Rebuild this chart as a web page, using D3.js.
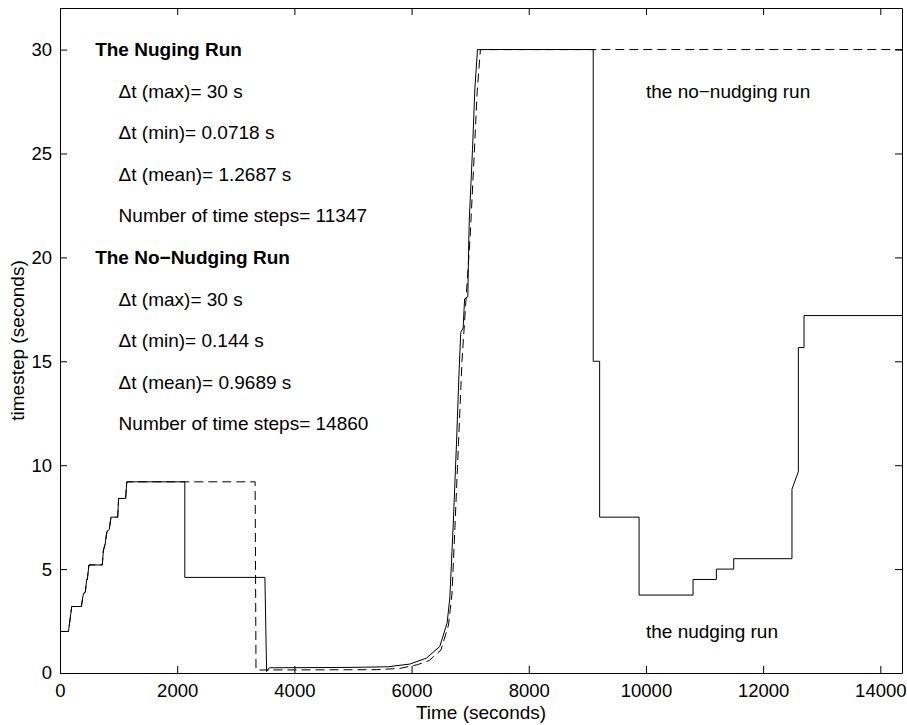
<!DOCTYPE html>
<html>
<head>
<meta charset="utf-8">
<script src="https://cdn.jsdelivr.net/npm/d3@7"></script>
<style>
    body { margin: 0; background: #fff; }
    svg { font-family: "Liberation Sans", Arial, Helvetica, sans-serif; }
</style>
</head>
<body>
<div id="chart"></div>
<script>
// time (s), timestep (s)
const nudgingRun = [
    [0, 2.0], [145, 2.0], [200, 3.2], [365, 3.2], [398, 3.8], [432, 3.9], [455, 4.5], [466, 4.5],
    [494, 5.2], [722, 5.2], [740, 5.9], [770, 6.2], [800, 6.8], [840, 6.9], [870, 7.5], [985, 7.5],
    [1000, 8.4], [1120, 8.4], [1140, 9.2], [2130, 9.2], [2130, 4.6], [3497, 4.6], [3526, 0.07],
    [3571, 0.25], [5000, 0.27], [5600, 0.3], [5971, 0.43], [6255, 0.72], [6482, 1.28], [6607, 2.41],
    [6653, 3.61], [6710, 7.06], [6767, 11.07], [6812, 14.6], [6840, 16.4], [6880, 16.6], [6905, 18.0],
    [6960, 18.1], [6975, 20.6], [6985, 21.8], [7040, 25.2], [7080, 28.1], [7125, 30], [9100, 30],
    [9100, 15.0], [9210, 15.0], [9210, 7.5], [9883, 7.5], [9883, 3.75], [10804, 3.75], [10804, 4.5],
    [11202, 4.5], [11202, 5.0], [11498, 5.0], [11498, 5.5], [12492, 5.5], [12492, 8.84], [12601, 9.69],
    [12601, 15.66], [12698, 15.66], [12698, 17.2], [14370, 17.2]
]
const noNudgingRun = [
    [0, 2.0], [145, 2.0], [200, 3.2], [365, 3.2], [398, 3.8], [432, 3.9], [455, 4.5], [466, 4.5],
    [494, 5.2], [722, 5.2], [740, 5.9], [770, 6.2], [800, 6.8], [840, 6.9], [870, 7.5], [985, 7.5],
    [1000, 8.4], [1120, 8.4], [1140, 9.2], [3330, 9.2], [3345, 0.2], [3360, 0.144], [5400, 0.16],
    [5800, 0.22], [6100, 0.4], [6300, 0.6], [6500, 1.1], [6630, 2.3], [6690, 3.8], [6740, 7.0],
    [6800, 11.0], [6860, 15.0], [6930, 18.0], [7000, 21.0], [7070, 25.0], [7120, 28.0], [7175, 30],
    [14370, 30]
]
const xTicks = [0, 2000, 4000, 6000, 8000, 10000, 12000, 14000]
const yTicks = [0, 5, 10, 15, 20, 25, 30]

// annotation text: [x, y, text, bold]
const notes = [
    [600, 30, "The Nuging Run", true],
    [1000, 28, "\u0394t (max)= 30 s", false],
    [1000, 26, "\u0394t (min)= 0.0718 s", false],
    [1000, 24, "\u0394t (mean)= 1.2687 s", false],
    [1000, 22, "Number of time steps= 11347", false],
    [600, 20, "The No\u2212Nudging Run", true],
    [1000, 18, "\u0394t (max)= 30 s", false],
    [1000, 16, "\u0394t (min)= 0.144 s", false],
    [1000, 14, "\u0394t (mean)= 0.9689 s", false],
    [1000, 12, "Number of time steps= 14860", false],
    [10000, 28, "the no\u2212nudging run", false],
    [10000, 2, "the nudging run", false]
]

const margin = { top: 8, right: 5, bottom: 52, left: 60 }
const fullWidth = 907
const fullHeight = 725
const width = fullWidth - margin.left - margin.right
const height = fullHeight - margin.top - margin.bottom

const svg = d3.select('#chart')
    .append('svg')
    .attr('width', fullWidth)
    .attr('height', fullHeight)

const g = svg.append('g')
    .attr('transform', `translate(${margin.left}, ${margin.top})`)

const x = d3.scaleLinear().domain([0, 14370]).range([0, width])
const y = d3.scaleLinear().domain([0, 32]).range([height, 0])

// lines
const line = d3.line()
    .x(d => x(d[0]))
    .y(d => y(d[1]))

g.append('path')
    .datum(noNudgingRun)
    .attr('fill', 'none')
    .attr('stroke', '#000')
    .attr('stroke-width', 1)
    .attr('stroke-dasharray', '9,5')
    .attr('d', line)

g.append('path')
    .datum(nudgingRun)
    .attr('fill', 'none')
    .attr('stroke', '#000')
    .attr('stroke-width', 1)
    .attr('d', line)

// axes, ticks pointing inside
const styleAxis = sel => {
    sel.selectAll('path, line').attr('stroke', '#000')
    sel.selectAll('text').attr('fill', '#000').style('font-size', '18.5px')
}

g.append('g')
    .attr('transform', `translate(0, ${height})`)
    .call(d3.axisBottom(x).tickValues(xTicks).tickFormat(d3.format('d'))
        .tickSizeInner(-7).tickSizeOuter(0).tickPadding(11))
    .call(styleAxis)
g.append('g')
    .call(d3.axisTop(x).tickValues(xTicks).tickSizeInner(-7).tickSizeOuter(0).tickFormat(''))
    .call(styleAxis)
g.append('g')
    .call(d3.axisLeft(y).tickValues(yTicks).tickFormat(d3.format('d'))
        .tickSizeInner(-7).tickSizeOuter(0).tickPadding(8))
    .call(styleAxis)
g.append('g')
    .attr('transform', `translate(${width}, 0)`)
    .call(d3.axisRight(y).tickValues(yTicks).tickSizeInner(-7).tickSizeOuter(0).tickFormat(''))
    .call(styleAxis)

// axis labels
svg.append('text')
    .attr('x', margin.left + width / 2)
    .attr('y', 719)
    .attr('text-anchor', 'middle')
    .style('font-size', '19px')
    .text('Time (seconds)')

svg.append('text')
    .attr('transform', `translate(24, ${margin.top + height / 2}) rotate(-90)`)
    .attr('text-anchor', 'middle')
    .style('font-size', '19px')
    .text('timestep (seconds)')

// annotations
g.selectAll('.note')
    .data(notes)
    .enter()
    .append('text')
    .attr('class', 'note')
    .attr('x', d => x(d[0]))
    .attr('y', d => y(d[1]))
    .attr('dy', '0.35em')
    .style('font-size', '19px')
    .style('font-weight', d => d[3] ? 'bold' : 'normal')
    .text(d => d[2])
</script>
</body>
</html>
